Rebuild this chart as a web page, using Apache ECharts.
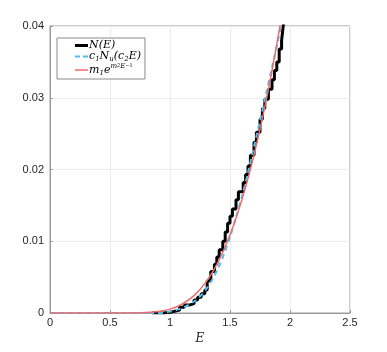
<!DOCTYPE html>
<html><head><meta charset="utf-8">
<script src="https://cdn.jsdelivr.net/npm/echarts@6/dist/echarts.min.js"></script>
<style>html,body{margin:0;padding:0;background:#fff}#c{width:387px;height:352px}</style>
</head><body><div id="c"></div>
<script>
// N(E) step data
var nE = [0.85,0.95,1.0,1.03,1.08,1.12,1.16,1.2,1.23,1.26,1.29,1.31,1.34,1.37,1.39,1.41,1.44,1.46,1.48,1.5,1.52,1.55,1.57,1.61,1.63,1.65,1.67,1.7,1.72,1.75,1.77,1.79,1.82,1.85,1.87,1.89,1.91,1.93,1.94,1.95];
var nV = [0,0.0001,0.0002,0.0004,0.0008,0.0011,0.0013,0.0018,0.0022,0.0027,0.0032,0.0045,0.0058,0.0068,0.0078,0.0088,0.0100,0.0113,0.0125,0.0135,0.0145,0.0158,0.0169,0.0182,0.0193,0.0205,0.0220,0.0238,0.0252,0.0270,0.0285,0.0298,0.0312,0.0325,0.0338,0.0350,0.0368,0.0380,0.0395,0.0410];
// c1 Nu(c2 E)
var cE = [0,0.5,0.9,0.95,1.0,1.05,1.1,1.15,1.2,1.25,1.3,1.35,1.4,1.45,1.5,1.55,1.6,1.65,1.7,1.75,1.8,1.85,1.9,1.95];
var cV = [0,0,0,0.00005,0.0002,0.0004,0.0007,0.0011,0.0016,0.0023,0.0033,0.0046,0.0062,0.0082,0.0106,0.0133,0.0163,0.0196,0.0232,0.0268,0.0305,0.0342,0.0380,0.0420];
// m1 e^{m2 E^-1}
var mE = [0,0.5,0.6,0.7,0.8,0.9,1.0,1.1,1.2,1.3,1.4,1.5,1.6,1.7,1.8,1.9,2.0];
var mV = [0,0,0.000001,0.00001,0.00006,0.0002,0.00054,0.00122,0.00242,0.00431,0.00706,0.01086,0.0158,0.0220,0.0295,0.0384,0.0487];
var xTicks = [0,0.5,1,1.5,2,2.5];
var yTicks = [0,0.01,0.02,0.03,0.04];

function zip(a,b){return a.map(function(v,i){return [v,b[i]];});}
var chart = echarts.init(document.getElementById('c'));
var lab = {color:'#262626', fontSize:11, fontFamily:'Liberation Sans, Arial'};
var serif = 'DejaVu Serif, Liberation Serif, serif';
// tiny corner marks keep the icon box at 13x4 so strokes keep their own thickness
var corners = 'M0,0h0.01v0.01h-0.01z M12.99,3.99h0.01v0.01h-0.01z ';
chart.setOption({
  animation:false,
  grid:{left:50,right:37,top:26,bottom:39,show:true,borderColor:'#9a9a9a',borderWidth:1},
  legend:{
    orient:'vertical', left:57, top:38, width:96,
    padding:[2,4,2,18], itemGap:0, itemWidth:13, itemHeight:4,
    backgroundColor:'#fff', borderColor:'#8a8a8a', borderWidth:1,
    data:[
      {name:'N',icon:'path://'+corners+'M0,0.5h13v3h-13z',itemStyle:{color:'#000'}},
      {name:'c',icon:'path://'+corners+'M0,1h5v2h-5z M8,1h5v2h-5z',itemStyle:{color:'#4DBEEE'}},
      {name:'m',icon:'path://'+corners+'M0,1.25h13v1.5h-13z',itemStyle:{color:'#F26B6B'}}
    ],
    formatter:function(n){
      if(n==='N') return '{i|N(E)}';
      if(n==='c') return '{i|c}{s|1}{i|N}{s|u}{i|(c}{s|2}{i|E)}';
      return '{i|m}{s|1}{i|e}{u|m}{uu|2}{u|E}{us|−1}';
    },
    textStyle:{color:'#000',padding:[0,0,0,-4],rich:{
      i:{fontFamily:serif,fontStyle:'italic',fontSize:11,height:13},
      s:{fontFamily:serif,fontStyle:'italic',fontSize:7,verticalAlign:'bottom',padding:[4,0,0,0]},
      u:{fontFamily:serif,fontStyle:'italic',fontSize:7,verticalAlign:'top',padding:[0,0,6,0]},
      uu:{fontFamily:serif,fontStyle:'italic',fontSize:5,verticalAlign:'top',padding:[0,0,3,0]},
      us:{fontFamily:serif,fontSize:5,verticalAlign:'top',padding:[0,0,9,0]}
    }}
  },
  xAxis:{type:'value',min:0,max:2.5,interval:0.5,
    name:'E',nameLocation:'middle',nameGap:16,
    nameTextStyle:{fontFamily:serif,fontStyle:'italic',fontSize:12,color:'#262626'},
    axisLine:{lineStyle:{color:'#9a9a9a'}},
    axisTick:{inside:true,length:3,lineStyle:{color:'#9a9a9a'}},
    axisLabel:Object.assign({margin:4,formatter:function(v){return String(v);}},lab),
    splitLine:{lineStyle:{color:'#ececec'}}},
  yAxis:{type:'value',min:0,max:0.04,interval:0.01,
    axisLine:{show:true,lineStyle:{color:'#9a9a9a'}},
    axisTick:{show:true,inside:true,length:3,lineStyle:{color:'#9a9a9a'}},
    axisLabel:Object.assign({margin:6,formatter:function(v){return String(+v.toFixed(2));}},lab),
    splitLine:{lineStyle:{color:'#ececec'}}},
  series:[
    {name:'N',type:'line',step:'end',data:zip(nE,nV),symbol:'none',
     lineStyle:{color:'#000',width:3},itemStyle:{color:'#000'}},
    {name:'c',type:'line',data:zip(cE,cV),symbol:'none',smooth:0.3,
     lineStyle:{color:'#4DBEEE',width:2,type:[5,4]},itemStyle:{color:'#4DBEEE'}},
    {name:'m',type:'line',data:zip(mE,mV),symbol:'none',smooth:0.3,
     lineStyle:{color:'#F26B6B',width:1.5},itemStyle:{color:'#F26B6B'}}
  ]
});
</script></body></html>
